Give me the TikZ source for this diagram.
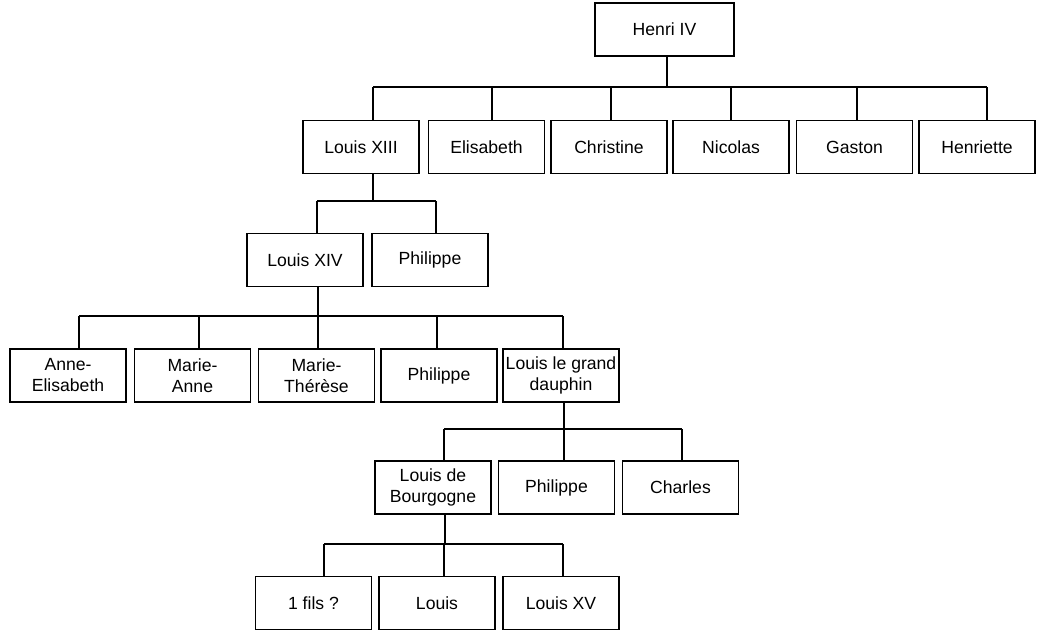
\documentclass[tikz,border=0pt]{standalone}
\usepackage{fontspec}
\setmainfont{Liberation Sans}
\usepackage{tikz}

\tikzset{
	person/.style={draw, line width=1.6pt, minimum width=116pt, minimum height=53pt,
		inner sep=0pt, align=center, font=\fontsize{17.6}{21}\selectfont},
	link/.style={line width=1.2pt}
}

\begin{document}
\begin{tikzpicture}[x=1pt, y=-1pt]
			\useasboundingbox (0, 0) rectangle (1043, 634);
			
			%Buses
			\coordinate (bus1) at (0, 87);
			\coordinate (bus2) at (0, 201);
			\coordinate (bus3) at (0, 316);
			\coordinate (bus4) at (0, 429);
			\coordinate (bus5) at (0, 544);
			
			%Level 1
			\node[person, minimum width=139pt] (henri) at (664.5, 29.5) {Henri IV};
			
			%Level 2
			\node[person] (louisxiii) at (361, 147) {Louis XIII};
			\node[person] (elisabeth) at (486.5, 147) {Elisabeth};
			\node[person] (christine) at (609, 147) {Christine};
			\node[person] (nicolas) at (731, 147) {Nicolas};
			\node[person] (gaston) at (854.5, 147) {Gaston};
			\node[person] (henriette) at (977, 147) {Henriette};
			
			%Lines
			\draw[link] ([xshift=2.5pt]henri.south) -- ([xshift=2.5pt]henri.south |- bus1);
			\draw[link] ([xshift=12pt]louisxiii.north |- bus1) -- ([xshift=10pt]henriette.north |- bus1);
			\draw[link] ([xshift=12pt]louisxiii.north) -- ([xshift=12pt]louisxiii.north |- bus1);
			\draw[link] ([xshift=5.5pt]elisabeth.north) -- ([xshift=5.5pt]elisabeth.north |- bus1);
			\draw[link] ([xshift=2pt]christine.north) -- ([xshift=2pt]christine.north |- bus1);
			\draw[link] (nicolas.north) -- (nicolas.north |- bus1);
			\draw[link] ([xshift=2.5pt]gaston.north) -- ([xshift=2.5pt]gaston.north |- bus1);
			\draw[link] ([xshift=10pt]henriette.north) -- ([xshift=10pt]henriette.north |- bus1);
			
			%Level 3
			\node[person] (louisxiv) at (305, 260) {Louis XIV};
			\node[person] (philippe1) at (430, 260) {Philippe};
			
			%Lines
			\draw[link] ([xshift=12pt]louisxiii.south) -- ([xshift=12pt]louisxiii.south |- bus2);
			\draw[link] ([xshift=12pt]louisxiv.north |- bus2) -- ([xshift=6pt]philippe1.north |- bus2);
			\draw[link] ([xshift=12pt]louisxiv.north) -- ([xshift=12pt]louisxiv.north |- bus2);
			\draw[link] ([xshift=6pt]philippe1.north) -- ([xshift=6pt]philippe1.north |- bus2);
			
			%Level 4
			\node[person] (anne) at (68, 375.5) {Anne-\\Elisabeth};
			\node[person] (marieanne) at (192.5, 375.5) {Marie-\\Anne};
			\node[person] (marietherese) at (316.5, 375.5) {Marie-\\Thérèse};
			\node[person] (philippe2) at (439, 375.5) {Philippe};
			\node[person] (dauphin) at (561, 375.5) {Louis le grand\\dauphin};
			
			%Lines
			\draw[link] ([xshift=13pt]louisxiv.south) -- ([xshift=13pt]louisxiv.south |- bus3);
			\draw[link] ([xshift=11pt]anne.north |- bus3) -- ([xshift=2pt]dauphin.north |- bus3);
			\draw[link] ([xshift=11pt]anne.north) -- ([xshift=11pt]anne.north |- bus3);
			\draw[link] ([xshift=6.5pt]marieanne.north) -- ([xshift=6.5pt]marieanne.north |- bus3);
			\draw[link] ([xshift=1.5pt]marietherese.north) -- ([xshift=1.5pt]marietherese.north |- bus3);
			\draw[link] ([xshift=-2pt]philippe2.north) -- ([xshift=-2pt]philippe2.north |- bus3);
			\draw[link] ([xshift=2pt]dauphin.north) -- ([xshift=2pt]dauphin.north |- bus3);
			
			%Level 5
			\node[person] (bourgogne) at (433, 487.5) {Louis de\\Bourgogne};
			\node[person] (philippe3) at (556.5, 487.5) {Philippe};
			\node[person] (charles) at (680.5, 487.5) {Charles};
			
			%Lines
			\draw[link] ([xshift=3pt]dauphin.south) -- ([xshift=3pt]dauphin.south |- bus4);
			\draw[link] ([xshift=11pt]bourgogne.north |- bus4) -- ([xshift=1.5pt]charles.north |- bus4);
			\draw[link] ([xshift=11pt]bourgogne.north) -- ([xshift=11pt]bourgogne.north |- bus4);
			\draw[link] ([xshift=7.5pt]philippe3.north) -- ([xshift=7.5pt]philippe3.north |- bus4);
			\draw[link] ([xshift=1.5pt]charles.north) -- ([xshift=1.5pt]charles.north |- bus4);
			
			%Level 6
			\node[person] (fils) at (313.5, 603) {1 fils ?};
			\node[person] (louis) at (437, 603) {Louis};
			\node[person] (louisxv) at (561, 603) {Louis XV};
			
			%Lines
			\draw[link] ([xshift=12pt]bourgogne.south) -- ([xshift=12pt]bourgogne.south |- bus5);
			\draw[link] ([xshift=10.5pt]fils.north |- bus5) -- ([xshift=2pt]louisxv.north |- bus5);
			\draw[link] ([xshift=10.5pt]fils.north) -- ([xshift=10.5pt]fils.north |- bus5);
			\draw[link] ([xshift=7pt]louis.north) -- ([xshift=7pt]louis.north |- bus5);
			\draw[link] ([xshift=2pt]louisxv.north) -- ([xshift=2pt]louisxv.north |- bus5);
\end{tikzpicture}
\end{document}
